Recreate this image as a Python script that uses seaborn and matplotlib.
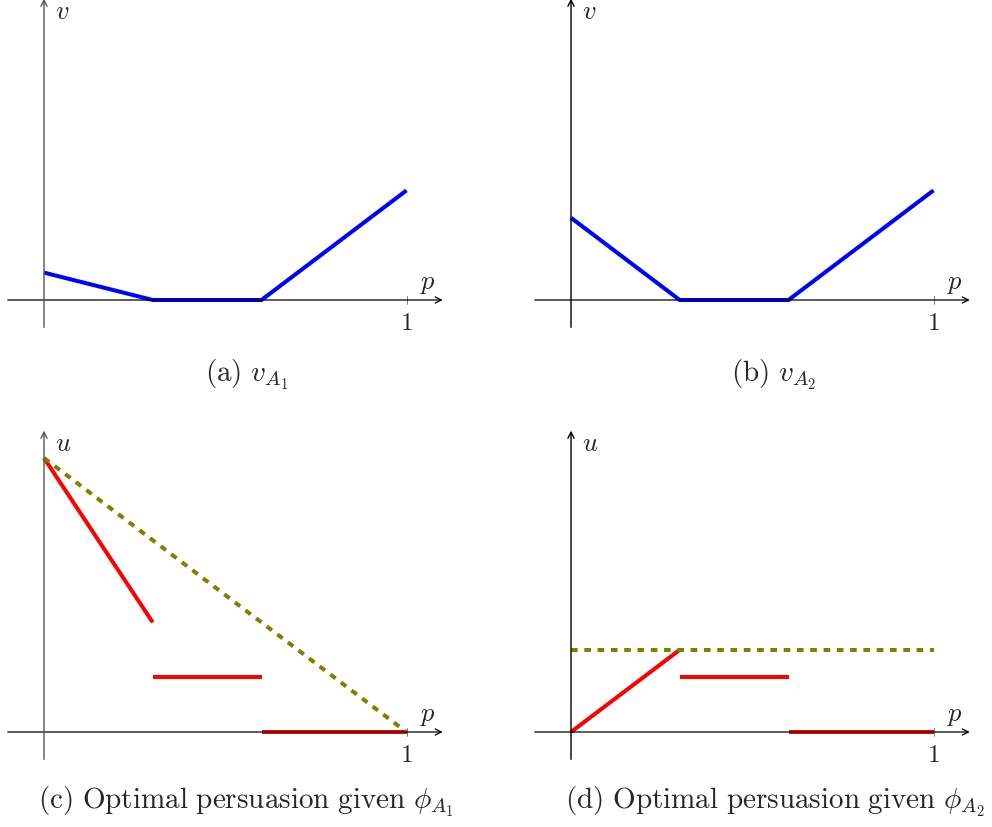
import matplotlib
matplotlib.use("Agg")
import matplotlib.pyplot as plt
import seaborn as sns

sns.set_style("white")
plt.rcParams["mathtext.fontset"] = "cm"
plt.rcParams["font.family"] = ["DejaVu Serif"]

# ---- data ----
p_a = [0, 0.3, 0.6, 1]
v_a1 = [0.1, 0, 0, 0.4]
p_b = [0, 0.3, 0.6, 1]
v_a2 = [0.3, 0, 0, 0.4]

c_seg_p = [[0, 0.3], [0.3, 0.6], [0.6, 1]]
c_seg_u = [[1, 0.4], [0.2, 0.2], [0, 0]]
c_dash_p = [0, 1]
c_dash_u = [1, 0]

d_seg_p = [[0, 0.3], [0.3, 0.6], [0.6, 1]]
d_seg_u = [[0, 0.3], [0.2, 0.2], [0, 0]]
d_dash_p = [0, 1]
d_dash_u = [0.3, 0.3]

captions = [r"$\mathrm{(a)}\ v_{A_1}$",
            r"$\mathrm{(b)}\ v_{A_2}$",
            r"$\mathrm{(c)\ Optimal\ persuasion\ given\ }\phi_{A_1}$",
            r"$\mathrm{(d)\ Optimal\ persuasion\ given\ }\phi_{A_2}$"]
ylabels = ["v", "v", "u", "u"]

W, H = 992, 828
fig = plt.figure(figsize=(W / 100, H / 100), dpi=100)


def make_ax(x0px, y0px):
    # x0px: pixel of data x=0 ; y0px: pixel row of data y=0
    ux, uy = 362.5, 274.0
    left = x0px - 0.1 * ux
    right = x0px + 1.1 * ux
    top = y0px - 1.1 * uy
    bottom = y0px + 0.1 * uy
    ax = fig.add_axes([left / W, 1 - bottom / H, (right - left) / W, (bottom - top) / H])
    ax.set_xlim(-0.1, 1.1)
    ax.set_ylim(-0.1, 1.1)
    ax.axis("off")
    return ax


axs = [make_ax(44, 301), make_ax(571, 301),
       make_ax(44, 733), make_ax(571, 733)]

LW = 2.9
OLIVE = (0.5, 0.5, 0.0)


def draw_axes(ax, ylab, ycol):
    ax.annotate("", xy=(1.1, 0), xytext=(-0.1, 0),
                arrowprops=dict(arrowstyle="->", lw=0.9, color="black",
                                mutation_scale=11, shrinkA=0, shrinkB=0),
                annotation_clip=False)
    ax.annotate("", xy=(0, 1.1), xytext=(0, -0.1),
                arrowprops=dict(arrowstyle="->", lw=1.0, color=ycol,
                                mutation_scale=11, shrinkA=0, shrinkB=0),
                annotation_clip=False)
    ax.plot([1, 1], [-0.014, 0.014], color="#666666", lw=0.6, clip_on=False)
    ax.text(1.0, -0.04, r"$1$", ha="center", va="top", fontsize=18)
    ax.text(1.058, 0.045, r"$p$", ha="center", va="baseline", fontsize=19)
    ax.text(0.03, 1.055, r"$%s$" % ylab, ha="left", va="center", fontsize=19)


for i, ax in enumerate(axs):
    draw_axes(ax, ylabels[i], "#555555" if i in (0, 2) else "black")

sns.lineplot(x=p_a, y=v_a1, ax=axs[0], color="blue", lw=LW, sort=False,
             estimator=None, solid_capstyle="butt", solid_joinstyle="miter", clip_on=False)
sns.lineplot(x=p_b, y=v_a2, ax=axs[1], color="blue", lw=LW, sort=False,
             estimator=None, solid_capstyle="butt", solid_joinstyle="miter", clip_on=False)

for ax, sp, su, dp, du in [(axs[2], c_seg_p, c_seg_u, c_dash_p, c_dash_u),
                           (axs[3], d_seg_p, d_seg_u, d_dash_p, d_dash_u)]:
    for xs, ys in zip(sp, su):
        sns.lineplot(x=xs, y=ys, ax=ax, color="red", lw=LW, sort=False,
                     estimator=None, solid_capstyle="butt", clip_on=False)
    sns.lineplot(x=dp, y=du, ax=ax, color=OLIVE, lw=LW, sort=False,
                 estimator=None, linestyle=(0, (1.65, 1.65)),
                 dash_capstyle="butt", clip_on=False)

for ax in axs:
    ax.set_xlim(-0.1, 1.1)
    ax.set_ylim(-0.1, 1.1)
    ax.axis("off")
    if ax.get_legend() is not None:
        ax.get_legend().remove()

cap_pos = [(247, 375), (774, 375), (246, 802), (775, 802)]
for (cx, cy), txt in zip(cap_pos, captions):
    fig.text(cx / W, 1 - cy / H, txt, ha="center", va="center", fontsize=21)

fig.savefig("out.png", dpi=100)
